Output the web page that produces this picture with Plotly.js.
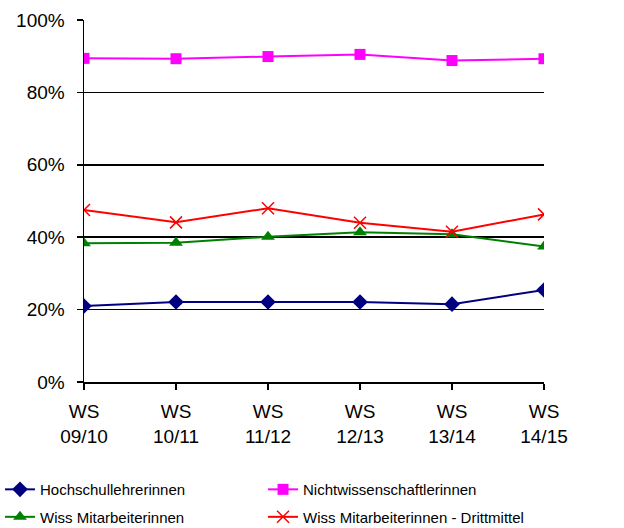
<!DOCTYPE html>
<html>
<head>
<meta charset="utf-8">
<script src="https://cdn.plot.ly/plotly-3.0.1.min.js"></script>
<style>html,body{margin:0;padding:0;background:#fff;}#chart{width:624px;height:528px;}</style>
</head>
<body>
<div id="chart"></div>
<script>
const categories = ["WS<br>09/10", "WS<br>10/11", "WS<br>11/12", "WS<br>12/13", "WS<br>13/14", "WS<br>14/15"];
const hochschullehrerinnen = [0.210, 0.221, 0.221, 0.221, 0.215, 0.254];
const nichtwissenschaftlerinnen = [0.894, 0.893, 0.899, 0.905, 0.888, 0.893];
const wissMitarbeiterinnen = [0.383, 0.385, 0.401, 0.414, 0.408, 0.374];
const wissDrittmittel = [0.475, 0.441, 0.480, 0.440, 0.415, 0.463];
const seriesNames = ["Hochschullehrerinnen", "Nichtwissenschaftlerinnen", "Wiss Mitarbeiterinnen", "Wiss Mitarbeiterinnen - Drittmittel"];

const traces = [
  {x: categories, y: hochschullehrerinnen, name: seriesNames[0], mode: "lines+markers", legend: "legend", legendgroup: "a",
   line: {color: "#000080", width: 2}, marker: {symbol: "diamond", size: 12, color: "#000080"}},
  {x: categories, y: nichtwissenschaftlerinnen, name: seriesNames[1], mode: "lines+markers", legend: "legend2", legendgroup: "b",
   line: {color: "#FF00FF", width: 2}, marker: {symbol: "square", size: 11, color: "#FF00FF"}},
  {x: categories, y: wissMitarbeiterinnen, name: seriesNames[2], mode: "lines+markers", legend: "legend", legendgroup: "c",
   line: {color: "#008000", width: 2}, marker: {symbol: "triangle-up", size: 12, color: "#008000"}},
  {x: categories, y: wissDrittmittel, name: seriesNames[3], mode: "lines+markers", legend: "legend2", legendgroup: "d",
   line: {color: "#FF0000", width: 2}, marker: {symbol: "x-thin-open", size: 12, color: "#FF0000", line: {color: "#FF0000", width: 1.5}}}
];

const legendBase = {orientation: "v", xref: "container", yref: "container", xanchor: "left", y: 0.104, yanchor: "top",
  font: {size: 15, family: "Liberation Sans, Arial, sans-serif"}, tracegroupgap: 5, itemwidth: 30,
  bgcolor: "rgba(0,0,0,0)"};

const layout = {
  width: 624, height: 528,
  margin: {l: 84, r: 80, t: 20, b: 146, autoexpand: false},
  paper_bgcolor: "#fff", plot_bgcolor: "#fff",
  font: {family: "Liberation Sans, Arial, sans-serif", color: "#000"},
  showlegend: true,
  legend: Object.assign({}, legendBase, {x: 0}),
  legend2: Object.assign({}, legendBase, {x: 0.4215}),
  xaxis: {type: "category", range: [0, 5], showgrid: false, showline: true, linecolor: "#000", linewidth: 1.5,
          ticks: "outside", ticklen: 6, tickcolor: "#000", tickwidth: 1.5, ticklabelstandoff: 6,
          tickfont: {size: 19}, zeroline: false, fixedrange: true},
  yaxis: {range: [0, 1], tickvals: [0, 0.2, 0.4, 0.6, 0.8, 1.0], tickformat: ".0%",
          showgrid: true, gridcolor: "#000", gridwidth: 1.5, showline: true, linecolor: "#000", linewidth: 1.5,
          ticks: "outside", ticklen: 6, tickcolor: "#000", tickwidth: 1.5, ticklabelstandoff: 8,
          tickfont: {size: 19}, zeroline: false, fixedrange: true}
};

Plotly.newPlot("chart", traces, layout, {displayModeBar: false, staticPlot: true});
</script>
</body>
</html>
